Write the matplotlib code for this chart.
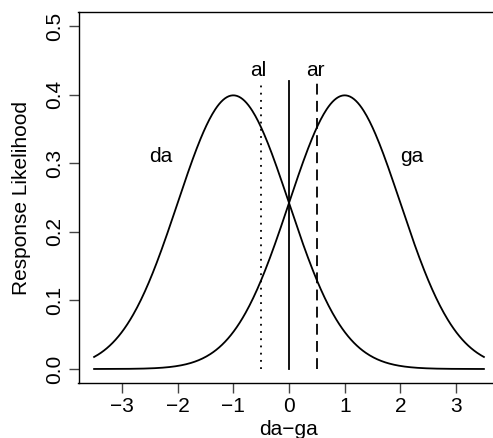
import numpy as np
import matplotlib
matplotlib.use("Agg")
import matplotlib.pyplot as plt

plt.rcParams['font.family'] = ['Liberation Sans', 'DejaVu Sans']

# two unit-variance normal response densities
means = [-1.0, 1.0]
sd = 1.0
x_range = [-3.5, 3.5]
curve_labels = ["da", "ga"]
label_pos = [(-2.3, 0.31), (2.2, 0.31)]

# criterion lines: position, style, label
crit_x = [-0.5, 0.0, 0.5]
crit_style = [(0, (1, 3)), '-', (0, (6, 3.5))]
crit_top = 0.42
crit_labels = ["al", "ar"]
crit_label_pos = [(-0.55, 0.435), (0.48, 0.435)]

x = np.linspace(x_range[0], x_range[1], 400)

fig = plt.figure(figsize=(4.93, 4.38), dpi=100)
ax = fig.add_axes([78.5 / 493, 55.3 / 438, 421 / 493, 370.4 / 438])

for m in means:
    y = np.exp(-0.5 * ((x - m) / sd) ** 2) / (sd * np.sqrt(2 * np.pi))
    ax.plot(x, y, color='black', lw=1.3)

for cx, ls in zip(crit_x, crit_style):
    ax.plot([cx, cx], [0, crit_top], color='black', lw=1.3, linestyle=ls)

fs = 15
for lab, (lx, ly) in zip(curve_labels, label_pos):
    ax.text(lx, ly, lab, ha='center', va='center', fontsize=fs)
for lab, (lx, ly) in zip(crit_labels, crit_label_pos):
    ax.text(lx, ly, lab, ha='center', va='center', fontsize=fs)

ax.set_xlim(-3.78, 3.78)
ax.set_ylim(-0.02, 0.52)
ax.set_xticks([-3, -2, -1, 0, 1, 2, 3])
ax.set_xticklabels(['\u22123', '\u22122', '\u22121', '0', '1', '2', '3'])
ax.set_yticks([0.0, 0.1, 0.2, 0.3, 0.4, 0.5])
ax.set_yticklabels(['0.0', '0.1', '0.2', '0.3', '0.4', '0.5'],
                   rotation=90, va='center')
ax.tick_params(direction='out', length=7, width=1, color='#444444',
               labelsize=fs)
ax.tick_params(axis='x', pad=3)
ax.tick_params(axis='y', pad=3.5)
for s in ax.spines.values():
    s.set_linewidth(1.0)

ax.set_xlabel('da\u2212ga', fontsize=fs, labelpad=3)
ax.set_ylabel('Response Likelihood', fontsize=fs, labelpad=10)

fig.savefig('out.png', dpi=100)
